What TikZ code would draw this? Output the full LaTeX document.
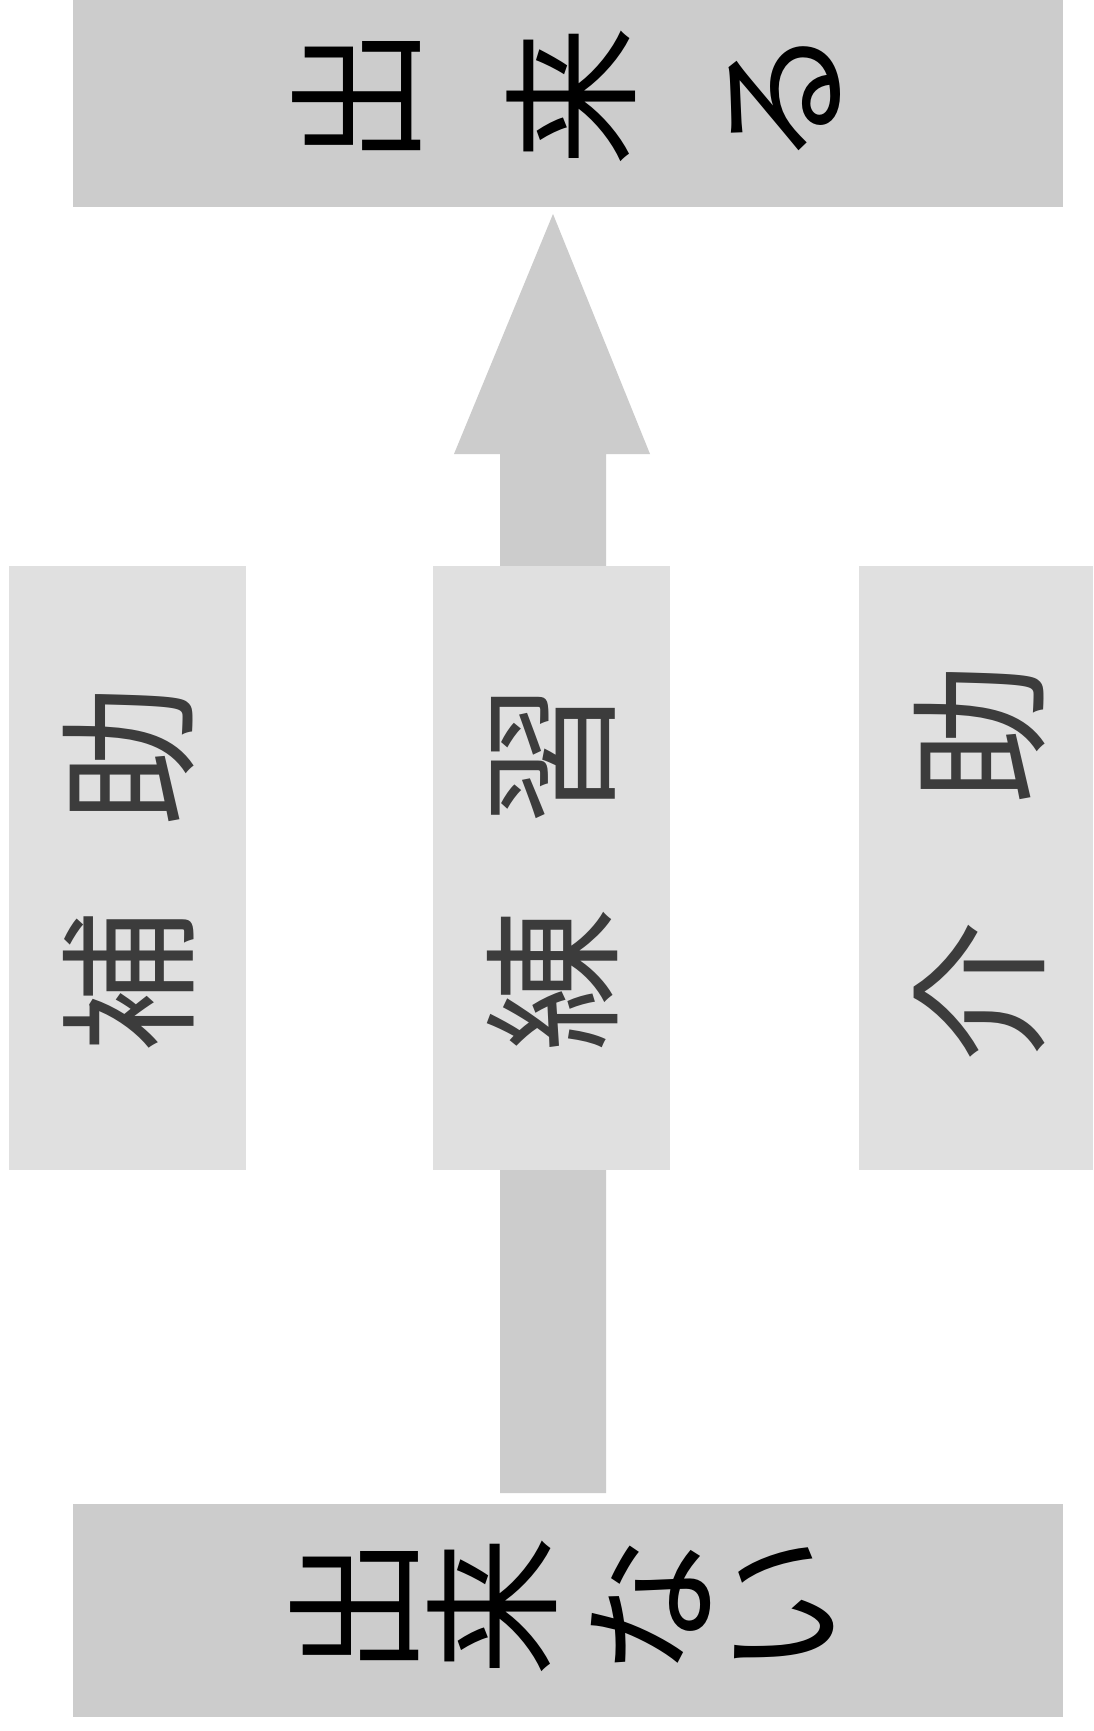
\documentclass[tikz,border=0pt]{standalone}
\usepackage{fontspec}
\newfontfamily\jp{Noto Sans CJK JP}
\definecolor{boxdark}{HTML}{CCCCCC}
\definecolor{boxlight}{HTML}{E0E0E0}
\definecolor{txtgray}{HTML}{3C3C3C}
\begin{document}
\begin{tikzpicture}[x=1pt,y=1pt,
  bigbox/.style={fill=boxdark,draw=none,inner sep=0pt},
  midbox/.style={fill=boxlight,draw=none,inner sep=0pt,minimum width=237pt,minimum height=604pt},
  bigchar/.style={rotate=90,inner sep=0pt,font=\jp\fontsize{140}{140}\selectfont,text=black},
  midchar/.style={rotate=90,inner sep=0pt,font=\jp\fontsize{142}{142}\selectfont,text=txtgray}]
\useasboundingbox[fill=white] (0,0) rectangle (1093,-1731);
% boxes
\node[bigbox,minimum width=990pt,minimum height=207pt] (top) at (568,-103.5) {};
\node[bigbox,minimum width=990pt,minimum height=213pt] (bottom) at (568,-1610.5) {};
% arrow
\coordinate (tip) at (553,-214);
\coordinate (tail) at (553,-1493);
\fill[boxdark] ([xshift=-53pt]tail) -- ([xshift=-53pt]tail |- 0,-454) -- ([xshift=-99pt]tail |- 0,-454)
  -- (tip) -- ([xshift=97pt]tail |- 0,-454) -- ([xshift=53pt]tail |- 0,-454) -- ([xshift=53pt]tail) -- cycle;
\node[midbox] (left) at (127.5,-868) {};
\node[midbox] (center) at (551.5,-868) {};
\node[midbox,minimum width=234pt] (right) at (976,-868) {};
% top text
\node[bigchar] (t1) at (357,-97) {出};
\node[bigchar] (t2) at (571,-97) {来};
\node[bigchar] (t3) at (785,-97) {る};
% bottom text
\node[bigchar] (b1) at (355,-1606) {出};
\node[bigchar] (b2) at (492,-1606) {来};
\node[bigchar] (b3) at (651,-1606) {な};
\node[bigchar] (b4) at (784,-1606) {い};
% middle text
\node[midchar] (l1) at (129,-981) {補};
\node[midchar] (l2) at (129,-755) {助};
\node[midchar] (c1) at (553,-980) {練};
\node[midchar] (c2) at (553,-754) {習};
\node[midchar] (r1) at (980,-991) {介};
\node[midchar] (r2) at (980,-733) {助};
\end{tikzpicture}
\end{document}
